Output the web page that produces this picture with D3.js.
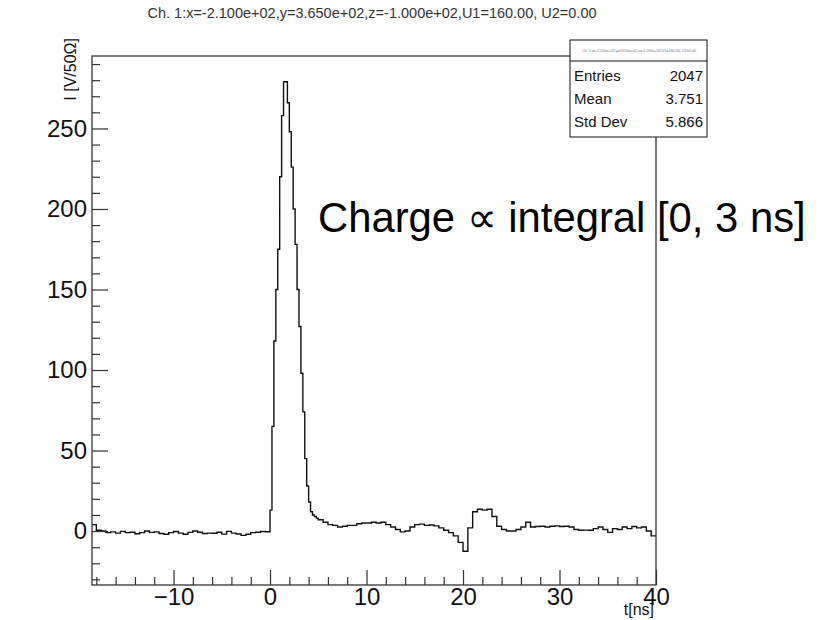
<!DOCTYPE html>
<html>
<head>
<meta charset="utf-8">
<script src="https://cdn.jsdelivr.net/npm/d3@7"></script>
<style>
  body { margin: 0; background: #fff; }
  text { font-family: "Liberation Sans", Arial, Helvetica, sans-serif; }
</style>
</head>
<body>
<div id="chart"></div>
<script>
// histogram contents (bin start, bin width, bin values)
const preStart = -18.5;
const preWidth = 0.5;
const preValues = [4, 0.5, 0, -1, -0.5, -1.3, -0.2, -1, -0.7, -1.7, -1, 0, -0.8, -0.5,
  -1.5, -2, -1, -0.3, -1.3, -2, -0.8, 0, -0.7, -1.5, -1.3, -1.4, -0.7, -1.9, -0.2,
  -1.3, -1.8, -2.7, -2, -1, -0.7, -0.3, -0.4];

const peakStart = 0;
const peakWidth = 0.2;
const peakValues = [13, 65, 118, 150, 175, 220, 258, 279, 279, 266, 248, 226, 200, 178,
  150, 127, 98, 74, 45, 28, 18, 12, 10, 9, 8];

const tailStart = 5;
const tailWidth = 0.5;
const tailValues = [7, 5.5, 4, 3.5, 2.5, 3, 3.5, 3.5, 4.5, 5, 5, 5.5, 5, 5.5, 4, 2.5, 1,
  -0.5, 0, 2.5, 4, 4.3, 3.5, 3.8, 3.2, 2, 0.5, -1, -3, -7, -12.5, 2, 12, 13.5, 13, 13.5,
  9, 3, 1, 0, 0, 1, 2.5, 5.5, 2.5, 2.8, 3, 2.5, 3, 3.2, 2.8, 3, 2.5, 1, 0.5, 0.6, 0.5,
  1.5, 2.5, 1, -0.8, 1.5, 1, 2.5, 1.5, 2.8, 2, 2.5, 0, -3];

const xMajor = [-10, 0, 10, 20, 30, 40];
const yMajor = [0, 50, 100, 150, 200, 250];

const statsLabels = ['Entries', 'Mean', 'Std Dev'];
const statsValues = ['2047', '3.751', '5.866'];

const title = 'Ch. 1:x=-2.100e+02,y=3.650e+02,z=-1.000e+02,U1=160.00, U2=0.00';
const xTitle = 't[ns]';
const yTitle = 'I [V/50Ω]';
const note = 'Charge ∝ integral [0, 3 ns]';

// page and frame geometry
const svgWidth = 828;
const svgHeight = 620;
const frame = { left: 92, right: 656, top: 56, bottom: 585 };

const svg = d3.select('#chart')
  .append('svg')
  .attr('width', svgWidth)
  .attr('height', svgHeight);

const x = d3.scaleLinear().domain([-18.45, 40]).range([frame.left, frame.right]);
const y = d3.scaleLinear().domain([-33.5, 295]).range([frame.bottom, frame.top]);

// title
svg.append('text')
  .attr('x', 372)
  .attr('y', 18)
  .attr('text-anchor', 'middle')
  .attr('font-size', 14.5)
  .attr('fill', '#333')
  .text(title);

// clip for the histogram
svg.append('clipPath').attr('id', 'frame-clip')
  .append('rect')
  .attr('x', frame.left).attr('y', frame.top)
  .attr('width', frame.right - frame.left)
  .attr('height', frame.bottom - frame.top);

// build step points from the three bin groups
function bins(start, width, values) {
  return values.map((v, i) => [start + i * width, v]);
}
const points = [].concat(
  bins(preStart, preWidth, preValues),
  bins(peakStart, peakWidth, peakValues),
  bins(tailStart, tailWidth, tailValues)
);
points.push([40, tailValues[tailValues.length - 1]]);

const line = d3.line()
  .x(d => x(d[0]))
  .y(d => y(d[1]))
  .curve(d3.curveStepAfter);

svg.append('path')
  .attr('clip-path', 'url(#frame-clip)')
  .attr('d', line(points))
  .attr('fill', 'none')
  .attr('stroke', '#111')
  .attr('stroke-width', 1.4);

// axes, ROOT style: ticks pointing into the frame
const xMinor = d3.range(-18, 41, 2).filter(v => xMajor.indexOf(v) === -1);
const yMinor = d3.range(-30, 291, 10).filter(v => v % 50 !== 0);

svg.append('g')
  .attr('transform', `translate(0, ${frame.bottom})`)
  .call(d3.axisBottom(x).tickValues(xMajor).tickSize(-15).tickPadding(3));
svg.append('g')
  .attr('transform', `translate(0, ${frame.bottom})`)
  .call(d3.axisBottom(x).tickValues(xMinor).tickSize(-8).tickFormat(''));

svg.append('g')
  .attr('transform', `translate(${frame.left}, 0)`)
  .call(d3.axisLeft(y).tickValues(yMajor).tickSize(-16).tickPadding(5));
svg.append('g')
  .attr('transform', `translate(${frame.left}, 0)`)
  .call(d3.axisLeft(y).tickValues(yMinor).tickSize(-8).tickFormat(''));

svg.selectAll('.domain').remove();
svg.selectAll('.tick line').attr('stroke', '#333').attr('stroke-width', 1.2);
svg.selectAll('.tick text')
  .attr('font-family', '"Liberation Sans", Arial, sans-serif')
  .attr('font-size', 24)
  .attr('fill', '#111');

// frame
svg.append('rect')
  .attr('x', frame.left).attr('y', frame.top)
  .attr('width', frame.right - frame.left)
  .attr('height', frame.bottom - frame.top)
  .attr('fill', 'none')
  .attr('stroke', '#333')
  .attr('stroke-width', 1.3);

// axis titles
svg.append('text')
  .attr('x', frame.right - 2)
  .attr('y', 615)
  .attr('text-anchor', 'end')
  .attr('font-size', 16)
  .attr('fill', '#111')
  .text(xTitle);

// y title is partly cut off on its left side in the original
svg.append('clipPath').attr('id', 'ytitle-clip')
  .append('rect')
  .attr('x', 61).attr('y', 0)
  .attr('width', 31).attr('height', 120);
svg.append('g')
  .attr('clip-path', 'url(#ytitle-clip)')
  .append('text')
  .attr('transform', 'translate(76, 38) rotate(-90)')
  .attr('text-anchor', 'end')
  .attr('font-size', 16)
  .attr('fill', '#111')
  .text(yTitle);

// statistics box
const stats = svg.append('g').attr('class', 'stats');
stats.append('rect')
  .attr('x', 570).attr('y', 40)
  .attr('width', 137).attr('height', 97)
  .attr('fill', '#fff')
  .attr('stroke', '#111')
  .attr('stroke-width', 1);
stats.append('line')
  .attr('x1', 570).attr('x2', 707)
  .attr('y1', 61).attr('y2', 61)
  .attr('stroke', '#111');
stats.append('text')
  .attr('x', 639).attr('y', 52)
  .attr('text-anchor', 'middle')
  .attr('font-size', 3.7)
  .attr('fill', '#777')
  .text(title);
stats.selectAll('text.lbl')
  .data(statsLabels)
  .enter()
  .append('text')
  .attr('class', 'lbl')
  .attr('x', 574)
  .attr('y', (d, i) => 81 + i * 23)
  .attr('font-size', 15)
  .attr('fill', '#111')
  .text(d => d);
stats.selectAll('text.val')
  .data(statsValues)
  .enter()
  .append('text')
  .attr('class', 'val')
  .attr('x', 703)
  .attr('y', (d, i) => 81 + i * 23)
  .attr('text-anchor', 'end')
  .attr('font-size', 15)
  .attr('fill', '#111')
  .text(d => d);

// slide annotation, sized to span the same width as in the picture
const noteText = svg.append('text')
  .attr('x', 318)
  .attr('y', 232)
  .attr('font-family', 'Lato, "Open Sans", sans-serif')
  .attr('font-size', 36)
  .attr('fill', '#000')
  .text(note);
const noteWidth = noteText.node().getComputedTextLength();
noteText.attr('font-size', 36 * 488 / noteWidth);
</script>
</body>
</html>
